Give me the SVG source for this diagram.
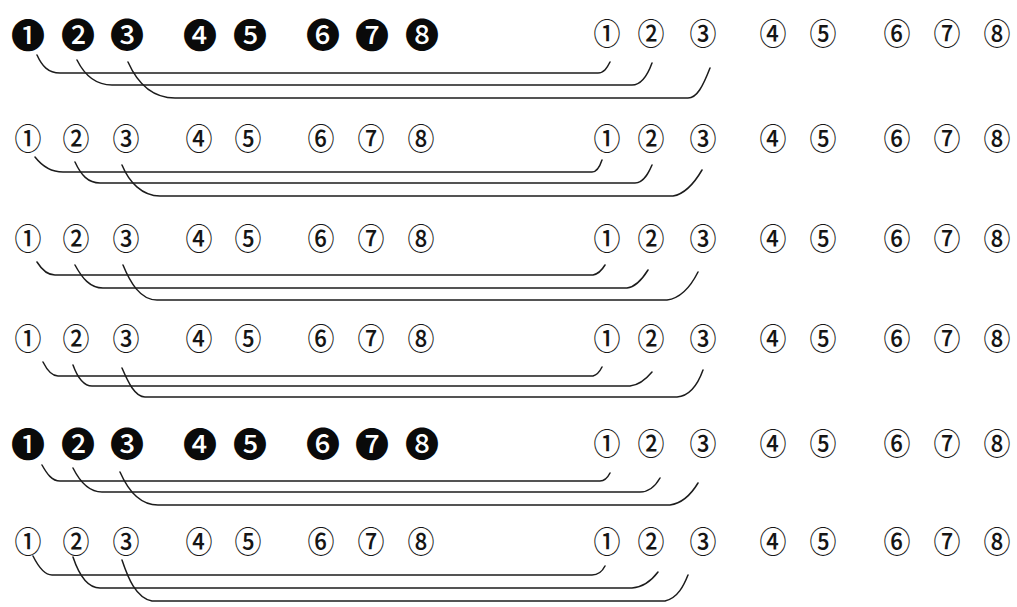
<svg xmlns="http://www.w3.org/2000/svg" width="1017" height="607" viewBox="0 0 1017 607">
<style>
.o{font-family:"Noto Sans CJK JP","DejaVu Sans",sans-serif;font-size:27px;font-weight:500;text-anchor:middle;dominant-baseline:central;fill:#151515;transform-box:fill-box;transform-origin:center;transform:scaleY(1.12)}
.f{font-family:"Noto Sans CJK JP","DejaVu Sans",sans-serif;font-size:34px;font-weight:500;text-anchor:middle;dominant-baseline:central;fill:#0a0a0a}
.c{fill:none;stroke:#1c1c1c;stroke-width:1.5;stroke-linecap:round}
</style>
<rect width="1017" height="607" fill="#ffffff"/>
<g id="row1">
<g id="r1-L1"><text class="f" x="28" y="33">❶</text></g>
<g id="r1-L2"><text class="f" x="78" y="33">❷</text></g>
<g id="r1-L3"><text class="f" x="127" y="33">❸</text></g>
<g id="r1-L4"><text class="f" x="200" y="33">❹</text></g>
<g id="r1-L5"><text class="f" x="250" y="33">❺</text></g>
<g id="r1-L6"><text class="f" x="323" y="33">❻</text></g>
<g id="r1-L7"><text class="f" x="372" y="33">❼</text></g>
<g id="r1-L8"><text class="f" x="422" y="33">❽</text></g>
<g id="r1-R1"><text class="o" x="607" y="32">①</text></g>
<g id="r1-R2"><text class="o" x="651" y="32">②</text></g>
<g id="r1-R3"><text class="o" x="703" y="32">③</text></g>
<g id="r1-R4"><text class="o" x="773" y="32">④</text></g>
<g id="r1-R5"><text class="o" x="823" y="32">⑤</text></g>
<g id="r1-R6"><text class="o" x="897" y="32">⑥</text></g>
<g id="r1-R7"><text class="o" x="947" y="32">⑦</text></g>
<g id="r1-R8"><text class="o" x="997" y="32">⑧</text></g>
</g>
<g id="row2">
<g id="r2-L1"><text class="o" x="28" y="137">①</text></g>
<g id="r2-L2"><text class="o" x="76" y="137">②</text></g>
<g id="r2-L3"><text class="o" x="126" y="137">③</text></g>
<g id="r2-L4"><text class="o" x="199" y="137">④</text></g>
<g id="r2-L5"><text class="o" x="248" y="137">⑤</text></g>
<g id="r2-L6"><text class="o" x="321" y="137">⑥</text></g>
<g id="r2-L7"><text class="o" x="371" y="137">⑦</text></g>
<g id="r2-L8"><text class="o" x="421" y="137">⑧</text></g>
<g id="r2-R1"><text class="o" x="607" y="137">①</text></g>
<g id="r2-R2"><text class="o" x="651" y="137">②</text></g>
<g id="r2-R3"><text class="o" x="703" y="137">③</text></g>
<g id="r2-R4"><text class="o" x="773" y="137">④</text></g>
<g id="r2-R5"><text class="o" x="823" y="137">⑤</text></g>
<g id="r2-R6"><text class="o" x="897" y="137">⑥</text></g>
<g id="r2-R7"><text class="o" x="947" y="137">⑦</text></g>
<g id="r2-R8"><text class="o" x="997" y="137">⑧</text></g>
</g>
<g id="row3">
<g id="r3-L1"><text class="o" x="28" y="237">①</text></g>
<g id="r3-L2"><text class="o" x="76" y="237">②</text></g>
<g id="r3-L3"><text class="o" x="126" y="237">③</text></g>
<g id="r3-L4"><text class="o" x="199" y="237">④</text></g>
<g id="r3-L5"><text class="o" x="248" y="237">⑤</text></g>
<g id="r3-L6"><text class="o" x="321" y="237">⑥</text></g>
<g id="r3-L7"><text class="o" x="371" y="237">⑦</text></g>
<g id="r3-L8"><text class="o" x="421" y="237">⑧</text></g>
<g id="r3-R1"><text class="o" x="607" y="237">①</text></g>
<g id="r3-R2"><text class="o" x="651" y="237">②</text></g>
<g id="r3-R3"><text class="o" x="703" y="237">③</text></g>
<g id="r3-R4"><text class="o" x="773" y="237">④</text></g>
<g id="r3-R5"><text class="o" x="823" y="237">⑤</text></g>
<g id="r3-R6"><text class="o" x="897" y="237">⑥</text></g>
<g id="r3-R7"><text class="o" x="947" y="237">⑦</text></g>
<g id="r3-R8"><text class="o" x="997" y="237">⑧</text></g>
</g>
<g id="row4">
<g id="r4-L1"><text class="o" x="28" y="337">①</text></g>
<g id="r4-L2"><text class="o" x="76" y="337">②</text></g>
<g id="r4-L3"><text class="o" x="126" y="337">③</text></g>
<g id="r4-L4"><text class="o" x="199" y="337">④</text></g>
<g id="r4-L5"><text class="o" x="248" y="337">⑤</text></g>
<g id="r4-L6"><text class="o" x="321" y="337">⑥</text></g>
<g id="r4-L7"><text class="o" x="371" y="337">⑦</text></g>
<g id="r4-L8"><text class="o" x="421" y="337">⑧</text></g>
<g id="r4-R1"><text class="o" x="607" y="337">①</text></g>
<g id="r4-R2"><text class="o" x="651" y="337">②</text></g>
<g id="r4-R3"><text class="o" x="703" y="337">③</text></g>
<g id="r4-R4"><text class="o" x="773" y="337">④</text></g>
<g id="r4-R5"><text class="o" x="823" y="337">⑤</text></g>
<g id="r4-R6"><text class="o" x="897" y="337">⑥</text></g>
<g id="r4-R7"><text class="o" x="947" y="337">⑦</text></g>
<g id="r4-R8"><text class="o" x="997" y="337">⑧</text></g>
</g>
<g id="row5">
<g id="r5-L1"><text class="f" x="28" y="442">❶</text></g>
<g id="r5-L2"><text class="f" x="78" y="442">❷</text></g>
<g id="r5-L3"><text class="f" x="127" y="442">❸</text></g>
<g id="r5-L4"><text class="f" x="200" y="442">❹</text></g>
<g id="r5-L5"><text class="f" x="250" y="442">❺</text></g>
<g id="r5-L6"><text class="f" x="323" y="442">❻</text></g>
<g id="r5-L7"><text class="f" x="372" y="442">❼</text></g>
<g id="r5-L8"><text class="f" x="422" y="442">❽</text></g>
<g id="r5-R1"><text class="o" x="607" y="442">①</text></g>
<g id="r5-R2"><text class="o" x="651" y="442">②</text></g>
<g id="r5-R3"><text class="o" x="703" y="442">③</text></g>
<g id="r5-R4"><text class="o" x="773" y="442">④</text></g>
<g id="r5-R5"><text class="o" x="823" y="442">⑤</text></g>
<g id="r5-R6"><text class="o" x="897" y="442">⑥</text></g>
<g id="r5-R7"><text class="o" x="947" y="442">⑦</text></g>
<g id="r5-R8"><text class="o" x="997" y="442">⑧</text></g>
</g>
<g id="row6">
<g id="r6-L1"><text class="o" x="28" y="540">①</text></g>
<g id="r6-L2"><text class="o" x="76" y="540">②</text></g>
<g id="r6-L3"><text class="o" x="126" y="540">③</text></g>
<g id="r6-L4"><text class="o" x="199" y="540">④</text></g>
<g id="r6-L5"><text class="o" x="248" y="540">⑤</text></g>
<g id="r6-L6"><text class="o" x="321" y="540">⑥</text></g>
<g id="r6-L7"><text class="o" x="371" y="540">⑦</text></g>
<g id="r6-L8"><text class="o" x="421" y="540">⑧</text></g>
<g id="r6-R1"><text class="o" x="607" y="540">①</text></g>
<g id="r6-R2"><text class="o" x="651" y="540">②</text></g>
<g id="r6-R3"><text class="o" x="703" y="540">③</text></g>
<g id="r6-R4"><text class="o" x="773" y="540">④</text></g>
<g id="r6-R5"><text class="o" x="823" y="540">⑤</text></g>
<g id="r6-R6"><text class="o" x="897" y="540">⑥</text></g>
<g id="r6-R7"><text class="o" x="947" y="540">⑦</text></g>
<g id="r6-R8"><text class="o" x="997" y="540">⑧</text></g>
</g>
<g id="connectors">
<path class="c" d="M37,55 C42,66 48,73 60,73 H598 C604,73 607,68 610,62"/>
<path class="c" d="M77,60 C84,74 95,85 112,85 H632 C642,85 648,74 652,63"/>
<path class="c" d="M128,62 C136,80 150,98 175,98 H688 C697,98 703,86 710,68"/>
<path class="c" d="M35,157 C42,166 50,172 63,172 H592 C597,172 600,166 602,160"/>
<path class="c" d="M75,162 C81,175 88,183 100,183 H635 C644,183 649,172 652,165"/>
<path class="c" d="M122,165 C129,182 142,196 160,196 H673 C685,194 695,182 702,170"/>
<path class="c" d="M37,262 C42,270 47,275 55,275 H593 C598,274 602,270 605,265"/>
<path class="c" d="M75,265 C82,278 90,288 103,288 H627 C636,287 643,278 648,270"/>
<path class="c" d="M123,265 C130,282 140,300 157,300 H667 C682,298 692,284 698,272"/>
<path class="c" d="M43,362 C47,370 52,376 58,376 H593 C597,375 600,371 602,367"/>
<path class="c" d="M73,365 C77,376 83,386 92,386 H630 C640,385 647,378 652,372"/>
<path class="c" d="M122,368 C128,382 135,397 145,397 H677 C690,396 698,384 703,370"/>
<path class="c" d="M42,465 C47,474 52,481 60,481 H600 C605,481 608,477 610,473"/>
<path class="c" d="M73,468 C79,480 88,492 102,492 H640 C650,492 656,485 660,478"/>
<path class="c" d="M120,472 C127,488 138,505 158,505 H670 C684,503 692,493 698,483"/>
<path class="c" d="M33,556 C38,566 44,575 52,575 H592 C598,575 602,572 605,566"/>
<path class="c" d="M73,557 C78,572 86,588 100,588 H632 C644,587 652,580 658,572"/>
<path class="c" d="M122,560 C128,578 136,598 152,601 H665 C678,598 684,585 688,575"/>
</g>
</svg>
